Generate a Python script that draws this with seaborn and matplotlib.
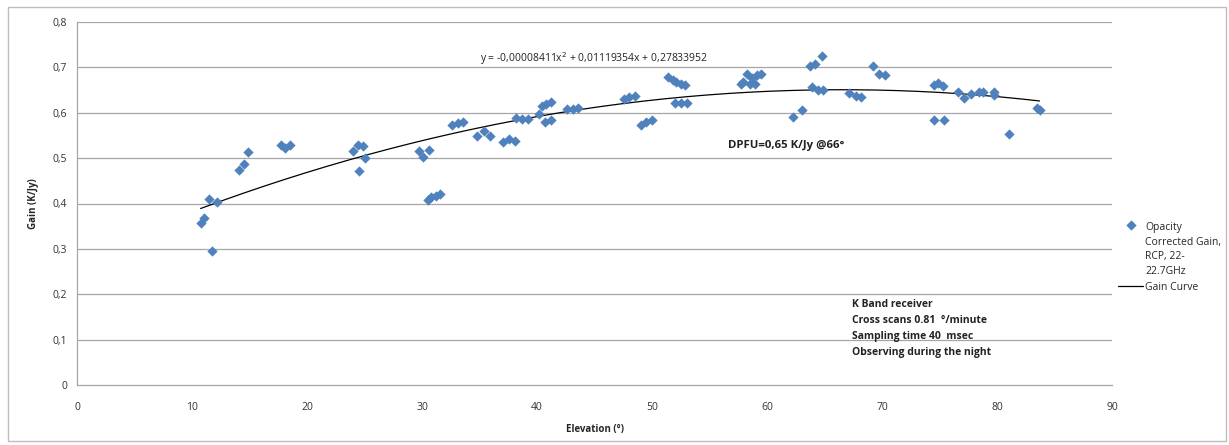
import numpy as np
import pandas as pd
import matplotlib
matplotlib.use("Agg")
import matplotlib.pyplot as plt
import seaborn as sns
from matplotlib.patches import Rectangle

elevation = [10.75, 11.07, 11.45, 11.74, 12.2, 14.1, 14.5, 14.9,
             17.7, 18.1, 18.5, 24.0, 24.4, 24.5, 24.9, 25.0,
             29.7, 30.1, 30.6, 30.5, 30.8, 31.2, 31.6, 32.6, 33.1, 33.6,
             34.8, 35.4, 35.9, 37.0, 37.6, 38.1, 38.2, 38.7, 39.2,
             40.2, 40.4, 40.8, 41.2, 40.7, 41.2, 42.6, 43.1, 43.6,
             47.6, 48.0, 48.5, 49.0, 49.5, 50.0,
             51.4, 51.8, 52.1, 52.5, 52.9, 52.0, 52.5, 53.0,
             57.7, 57.9, 58.3, 58.7, 58.5, 58.96, 59.1, 59.5,
             62.3, 63.0, 63.7, 64.2, 64.8, 63.9, 64.4, 64.9,
             67.1, 67.7, 68.2, 69.2, 69.7, 70.3,
             74.5, 74.9, 75.3, 74.5, 75.4, 76.6, 77.1, 77.7, 78.4, 78.8,
             79.7, 79.7, 81.0, 83.5, 83.7]
gain = [0.358, 0.367, 0.409, 0.296, 0.404, 0.474, 0.488, 0.513,
        0.530, 0.523, 0.530, 0.516, 0.530, 0.472, 0.526, 0.500,
        0.516, 0.502, 0.519, 0.408, 0.414, 0.417, 0.420, 0.573, 0.577, 0.580,
        0.549, 0.559, 0.549, 0.536, 0.543, 0.538, 0.589, 0.586, 0.586,
        0.597, 0.615, 0.619, 0.624, 0.580, 0.584, 0.608, 0.608, 0.611,
        0.631, 0.634, 0.638, 0.574, 0.580, 0.584,
        0.679, 0.673, 0.668, 0.663, 0.661, 0.621, 0.621, 0.622,
        0.663, 0.668, 0.685, 0.676, 0.663, 0.663, 0.683, 0.685,
        0.590, 0.607, 0.703, 0.707, 0.726, 0.656, 0.651, 0.650,
        0.643, 0.637, 0.635, 0.704, 0.685, 0.683,
        0.661, 0.665, 0.658, 0.584, 0.584, 0.645, 0.632, 0.642, 0.646, 0.646,
        0.646, 0.639, 0.554, 0.611, 0.606]

fit_coeffs = [-0.00008411, 0.01119354, 0.27833952]
x_ticks = [0, 10, 20, 30, 40, 50, 60, 70, 80, 90]
y_ticks = [0, 0.1, 0.2, 0.3, 0.4, 0.5, 0.6, 0.7, 0.8]
y_tick_labels = ["0", "0,1", "0,2", "0,3", "0,4", "0,5", "0,6", "0,7", "0,8"]
info_lines = ["K Band receiver", "Cross scans 0.81  °/minute",
              "Sampling time 40  msec", "Observing during the night"]

sns.set_theme(style="white")
plt.rcParams["font.family"] = ["Open Sans", "DejaVu Sans"]

df = pd.DataFrame({"Elevation": elevation, "Gain": gain})
xf = np.linspace(min(elevation), max(elevation), 200)
curve = pd.DataFrame({"Elevation": xf, "Gain": np.polyval(fit_coeffs, xf)})

fig = plt.figure(figsize=(12.29, 4.45), dpi=100)
ax = fig.add_axes([77 / 1229, 1 - 385 / 445, (1112 - 77) / 1229, (385 - 22) / 445])

fig.patches.append(Rectangle((8 / 1229, 4 / 445), 1218 / 1229, 434 / 445,
                             transform=fig.transFigure, fill=False,
                             edgecolor="#BDBDBD", linewidth=1.0))

blue = "#4F81BD"
sns.scatterplot(data=df, x="Elevation", y="Gain", marker="D", s=24, color=blue,
                edgecolor=blue, linewidth=0.3, ax=ax,
                label="Opacity\nCorrected Gain,\nRCP, 22-\n22.7GHz", zorder=3)
sns.lineplot(data=curve, x="Elevation", y="Gain", color="black", linewidth=0.9,
             ax=ax, label="Gain Curve", zorder=2)

ax.set_xlim(0, 90)
ax.set_ylim(0, 0.8)
ax.set_xticks(x_ticks)
ax.set_xticklabels([str(t) for t in x_ticks], fontsize=7.5, color="#333333")
ax.set_yticks(y_ticks)
ax.set_yticklabels(y_tick_labels, fontsize=7.5, color="#333333")
ax.tick_params(axis="x", length=0, pad=12)
ax.tick_params(axis="y", length=0, pad=7)
for y in y_ticks[1:]:
    ax.axhline(y, color="#A6A6A6", linewidth=0.9, zorder=1)
for side in ["top", "right"]:
    ax.spines[side].set_visible(False)
for side in ["left", "bottom"]:
    ax.spines[side].set_color("#A6A6A6")
    ax.spines[side].set_linewidth(0.9)

ax.set_xlabel("Elevation (°)", fontsize=7, fontweight="bold", labelpad=8)
ax.set_ylabel("Gain (K/Jy)", fontsize=7, fontweight="bold", labelpad=10)

ax.text(45.0, 0.72, "y = -0,00008411x$^2$ + 0,01119354x + 0,27833952",
        fontsize=7.5, ha="center", va="center", color="#222222")
ax.text(56.6, 0.528, "DPFU=0,65 K/Jy @66°", fontsize=8.2, fontweight="bold",
        ha="left", va="center", color="#222222")
ax.text(67.4, 0.19, "\n".join(info_lines), fontsize=7.5, fontweight="bold",
        ha="left", va="top", color="#222222", linespacing=1.62)

leg = ax.legend(loc="upper left", bbox_to_anchor=(1.002, 0.46), frameon=False,
                fontsize=7.5, handlelength=2.4, handletextpad=0.2,
                labelspacing=0.45, borderaxespad=0)
for t in leg.get_texts():
    t.set_linespacing(1.45)
# align the diamond with the first text line, as in the original legend
h0 = leg.legend_handles[0]
offs = np.array(h0.get_offsets(), dtype=float)
offs[:, 1] += 18.7
h0.set_offsets(offs)

fig.savefig("out.png", dpi=100)
